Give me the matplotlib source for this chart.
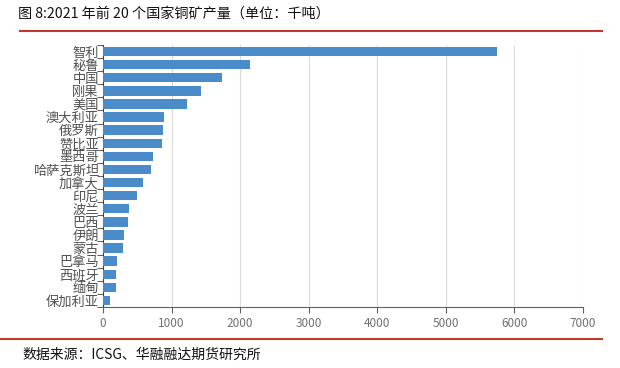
import matplotlib.pyplot as plt
import numpy as np

plt.rcParams['font.family'] = ['Noto Sans CJK SC', 'DejaVu Sans']

countries = ['智利', '秘鲁', '中国', '刚果', '美国', '澳大利亚', '俄罗斯', '赞比亚', '墨西哥',
             '哈萨克斯坦', '加拿大', '印尼', '波兰', '巴西', '伊朗', '蒙古', '巴拿马', '西班牙',
             '缅甸', '保加利亚']
output = [5750, 2150, 1730, 1430, 1225, 889, 880, 860, 733,
          700, 579, 500, 384, 365, 306, 297, 209, 195,
          190, 107]

fig = plt.figure(figsize=(6.2, 3.68), dpi=100)
ax = fig.add_axes([103/620, 1-307/368, 480/620, 262/368])

y = np.arange(len(countries))
ax.barh(y, output, height=0.72, color='#4a8bc9', zorder=3)
ax.set_yticks(y)
ax.set_yticklabels(countries, fontsize=9.5, color='#505050')
ax.set_ylim(len(countries) - 0.5, -0.5)
ax.set_yticks(np.arange(len(countries) + 1) - 0.5, minor=True)
ax.tick_params(axis='y', which='major', length=0, pad=3)
ax.tick_params(axis='y', which='minor', length=4, color='#404040')

ax.set_xlim(0, 7000)
ax.set_xticks(range(0, 7001, 1000))
ax.tick_params(axis='x', labelsize=8.5, labelcolor='#707070', length=4, color='#606060')
ax.grid(axis='x', color='#d9d9d9', linewidth=0.8, zorder=0)
for s in ['top', 'right']:
    ax.spines[s].set_visible(False)
ax.spines['left'].set_color('#404040')
ax.spines['bottom'].set_color('#606060')

fig.text(18/620, 1-14/368, '图 8:2021 年前 20 个国家铜矿产量（单位：千吨）', fontsize=10.2,
         color='#111111', va='center', ha='left', fontweight='medium')
fig.add_artist(plt.Line2D([20/620, 602/620], [1-31/368, 1-31/368], color='#c0392b', linewidth=1.5))
fig.add_artist(plt.Line2D([0/620, 602/620], [1-339/368, 1-339/368], color='#c0392b', linewidth=1.5))
fig.text(22/620, 1-355/368, '数据来源：ICSG、华融融达期货研究所', fontsize=10,
         color='#111111', va='center', ha='left', fontweight='medium')

fig.savefig('out.png', dpi=100)
